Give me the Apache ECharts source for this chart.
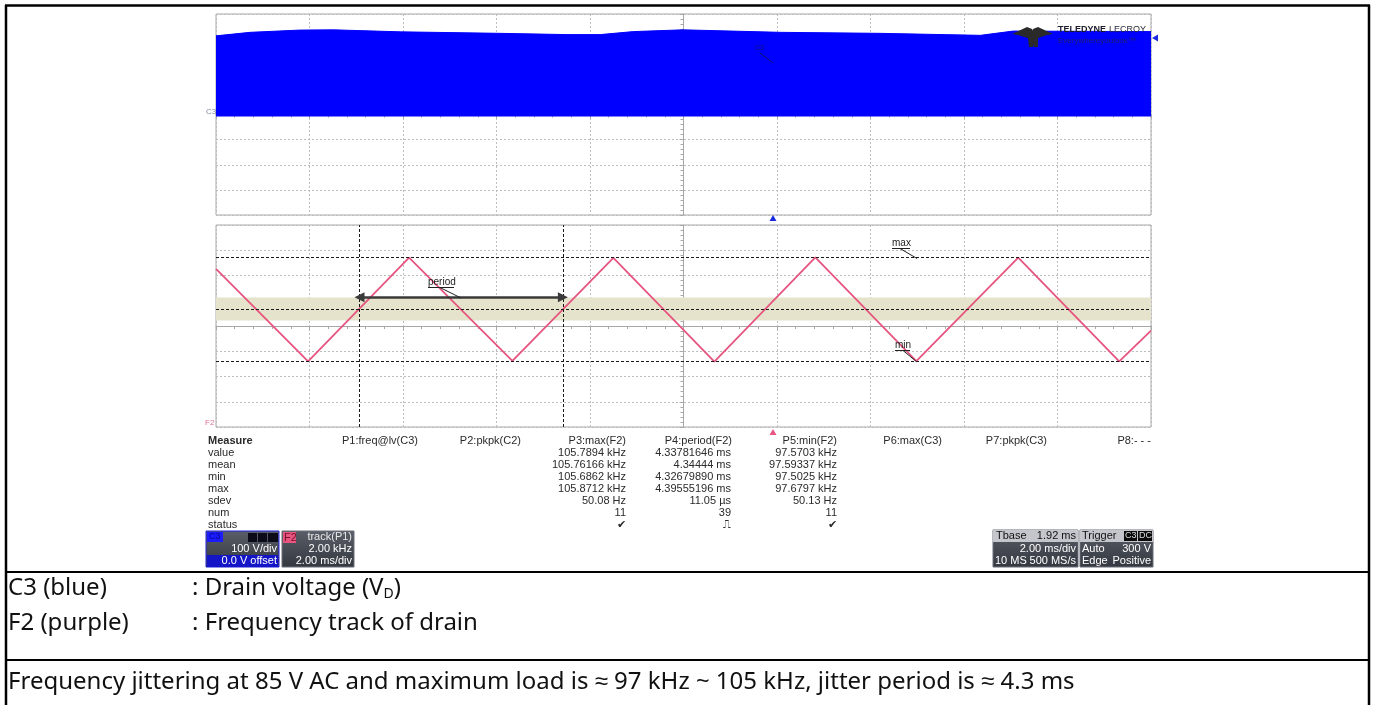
<!DOCTYPE html>
<html>
<head>
<meta charset="utf-8">
<script src="https://cdn.jsdelivr.net/npm/echarts@6/dist/echarts.min.js"></script>
<style>
html, body { margin: 0; padding: 0; background: #fff; }
#chart { width: 1375px; height: 705px; }
</style>
</head>
<body>
<div id="chart"></div>
<script>
// C3: drain voltage burst, top edge of the envelope (V), time in ms from trigger
const c3Times = [-11.92, -11.19, -10.12, -9.41, -7.98, -5.84, -4.41, -3.70, -2.99, -1.93, 0.15, 2.29, 4.43, 5.13, 8.08];
const c3Top = [313, 327, 336, 337, 329, 323, 318, 318, 330, 337, 327, 323, 315, 332, 330];
const c3Bottom = -8;

// F2: frequency track of drain (kHz), turning points of the triangle
const f2Times = [-11.92, -9.95, -7.79, -5.58, -3.42, -1.26, 0.90, 3.06, 5.24, 7.40, 8.08];
const f2Freq = [104.9, 97.57, 105.79, 97.6, 105.77, 97.55, 105.8, 97.58, 105.78, 97.57, 100.0];

// cursors / levels on F2
const f2MaxLevel = 105.79;
const f2MinLevel = 97.57;
const f2MidLevel = 101.67;
const hystBand = [100.8, 102.62];
const periodCursors = [-8.85, -4.50];
const periodArrowLevel = 102.65;

// measurement table
const measureRows = ['value', 'mean', 'min', 'max', 'sdev', 'num', 'status'];
const paramHeaders = ['P1:freq@lv(C3)', 'P2:pkpk(C2)', 'P3:max(F2)', 'P4:period(F2)', 'P5:min(F2)', 'P6:max(C3)', 'P7:pkpk(C3)', 'P8:- - -'];
const p3Values = ['105.7894 kHz', '105.76166 kHz', '105.6862 kHz', '105.8712 kHz', '50.08 Hz', '11', '\u2714'];
const p4Values = ['4.33781646 ms', '4.34444 ms', '4.32679890 ms', '4.39555196 ms', '11.05 \u00b5s', '39', '\u238d'];
const p5Values = ['97.5703 kHz', '97.59337 kHz', '97.5025 kHz', '97.6797 kHz', '50.13 Hz', '11', '\u2714'];

const SCOPE_FONT = 'Liberation Sans, Arial, sans-serif';
const DOC_FONT = '"Noto Sans", sans-serif';
const GRID_LINE = { color: '#bdbdbd', type: [2, 2], width: 1 };

const chart = echarts.init(document.getElementById('chart'));

function divX(gridIndex, zeroY) {
  return {
    gridIndex: gridIndex, type: 'value', min: -5, max: 5, interval: 1,
    axisLabel: { show: false },
    axisLine: { show: true, onZero: true, onZeroAxisIndex: zeroY, lineStyle: { color: '#a8a8a8', width: 1 } },
    axisTick: { show: true, length: 4, lineStyle: { color: '#a8a8a8' } },
    minorTick: { show: true, splitNumber: 5, length: 3, lineStyle: { color: '#a8a8a8' } },
    splitLine: { show: true, lineStyle: GRID_LINE }
  };
}
function divY(gridIndex, zeroX) {
  return {
    gridIndex: gridIndex, type: 'value', min: -4, max: 4, interval: 1,
    axisLabel: { show: false },
    axisLine: { show: true, onZero: true, onZeroAxisIndex: zeroX, lineStyle: { color: '#a8a8a8', width: 1 } },
    axisTick: { show: true, length: 4, lineStyle: { color: '#a8a8a8' } },
    minorTick: { show: true, splitNumber: 5, length: 3, lineStyle: { color: '#a8a8a8' } },
    splitLine: { show: true, lineStyle: GRID_LINE }
  };
}

// ---------- texts & decorations ----------
function txt(x, y, s, opt) {
  return { type: 'text', x: x, y: y, z: 100,
    style: Object.assign({ text: s, font: '11px ' + SCOPE_FONT, fill: '#2a2a2a', align: 'left', verticalAlign: 'middle' }, opt || {}) };
}
function rect(x, y, w, h, fill, stroke) {
  return { type: 'rect', z: 90, shape: { x: x, y: y, width: w, height: h },
    style: { fill: fill, stroke: stroke || null, lineWidth: stroke ? 1 : 0 } };
}
function line(x1, y1, x2, y2, color, width) {
  return { type: 'line', z: 95, shape: { x1: x1, y1: y1, x2: x2, y2: y2 }, style: { stroke: color, lineWidth: width || 1 } };
}

const graphics = [];

// document table frame
graphics.push(line(5, 5.5, 1370, 5.5, '#000', 2.5));
graphics.push(line(6, 5, 6, 705, '#000', 2.5));
graphics.push(line(1369, 5, 1369, 705, '#000', 2.5));
graphics.push(line(5, 572, 1370, 572, '#000', 2));
graphics.push(line(5, 660, 1370, 660, '#000', 2));

// caption rows
const docText = { font: '24px ' + DOC_FONT, fill: '#111' };
graphics.push(txt(8, 588, 'C3 (blue)', docText));
graphics.push({ type: 'text', x: 192, y: 588, z: 100, style: {
  text: '{a|: Drain voltage (V}{s|D}{a|)}', verticalAlign: 'middle', fill: '#111',
  rich: { a: { font: '24px ' + DOC_FONT, fill: '#111' }, s: { font: '14px ' + DOC_FONT, fill: '#111', padding: [12, 0, 0, 0] } }
} });
graphics.push(txt(8, 623, 'F2 (purple)', docText));
graphics.push(txt(192, 623, ': Frequency track of drain', docText));
graphics.push(txt(8, 682, 'Frequency jittering at 85 V AC and maximum load is \u2248 97 kHz ~ 105 kHz, jitter period is \u2248 4.3 ms', docText));

// measurement table
const colRight = [418, 521, 626, 732, 837, 942, 1047, 1151];
graphics.push(txt(208, 441, 'Measure', { font: 'bold 11px ' + SCOPE_FONT }));
paramHeaders.forEach((h, i) => graphics.push(txt(colRight[i], 441, h, { align: 'right' })));
measureRows.forEach((r, i) => {
  const y = 453 + i * 12;
  graphics.push(txt(208, y, r));
  graphics.push(txt(colRight[2], y, p3Values[i], { align: 'right' }));
  graphics.push(txt(colRight[3] - 1, y, p4Values[i], { align: 'right' }));
  graphics.push(txt(colRight[4], y, p5Values[i], { align: 'right' }));
});

// channel descriptor boxes
const boxGrad = () => new echarts.graphic.LinearGradient(0, 0, 0, 1, [
  { offset: 0, color: '#5a5e68' }, { offset: 1, color: '#33373f' }]);
// C3
graphics.push(rect(206, 531, 73, 36, boxGrad(), '#2323e0'));
graphics.push(rect(207, 532, 16, 10, '#1b1bff'));
graphics.push(txt(209, 537, 'C3', { font: '9px ' + SCOPE_FONT, fill: '#0a0a90' }));
graphics.push(rect(248, 533, 9, 9, '#0b0b1a'));
graphics.push(rect(258, 533, 9, 9, '#0b0b1a'));
graphics.push(rect(268, 533, 10, 9, '#0b0b1a'));
graphics.push(txt(277, 549, '100 V/div', { align: 'right', fill: '#fff' }));
graphics.push(rect(207, 555, 71, 12, '#1515c8'));
graphics.push(txt(277, 561, '0.0 V offset', { align: 'right', fill: '#fff' }));
// F2
graphics.push(rect(282, 531, 72, 36, boxGrad(), '#6a6e78'));
graphics.push(rect(283, 532, 13, 11, '#e8557f'));
graphics.push(txt(284, 537.5, 'F2', { font: '11px ' + SCOPE_FONT, fill: '#7a1030' }));
graphics.push(txt(352, 537, 'track(P1)', { align: 'right', fill: '#e8e8e8' }));
graphics.push(txt(352, 549, '2.00 kHz', { align: 'right', fill: '#fff' }));
graphics.push(txt(352, 561, '2.00 ms/div', { align: 'right', fill: '#fff' }));
// Tbase
graphics.push(rect(993, 530, 85, 37, boxGrad(), '#6a6e78'));
graphics.push(rect(993, 530, 85, 12, '#c4c6cc'));
graphics.push(txt(996, 536, 'Tbase', { fill: '#111' }));
graphics.push(txt(1076, 536, '1.92 ms', { align: 'right', fill: '#111' }));
graphics.push(txt(1076, 549, '2.00 ms/div', { align: 'right', fill: '#fff' }));
graphics.push(txt(995, 561, '10 MS', { fill: '#fff' }));
graphics.push(txt(1076, 561, '500 MS/s', { align: 'right', fill: '#fff' }));
// Trigger
graphics.push(rect(1080, 530, 73, 37, boxGrad(), '#6a6e78'));
graphics.push(rect(1080, 530, 73, 12, '#c4c6cc'));
graphics.push(txt(1082, 536, 'Trigger', { fill: '#111' }));
graphics.push(rect(1124, 531, 13, 10, '#0a0a0a'));
graphics.push(rect(1138, 531, 14, 10, '#0a0a0a'));
graphics.push(txt(1125, 536, 'C3', { font: '9px ' + SCOPE_FONT, fill: '#ddd' }));
graphics.push(txt(1139, 536, 'DC', { font: '9px ' + SCOPE_FONT, fill: '#ddd' }));
graphics.push(txt(1082, 549, 'Auto', { fill: '#fff' }));
graphics.push(txt(1151, 549, '300 V', { align: 'right', fill: '#fff' }));
graphics.push(txt(1082, 561, 'Edge', { fill: '#fff' }));
graphics.push(txt(1151, 561, 'Positive', { align: 'right', fill: '#fff' }));

// trace labels and markers
graphics.push(txt(206, 112, 'C3', { font: '8px ' + SCOPE_FONT, fill: '#7f8aa0' }));
graphics.push(txt(205, 423, 'F2', { font: '8px ' + SCOPE_FONT, fill: '#e07090' }));
graphics.push({ type: 'polygon', z: 96, shape: { points: [[773, 215], [769.5, 221], [776.5, 221]] }, style: { fill: '#1a2ae0' } });
graphics.push({ type: 'polygon', z: 96, shape: { points: [[773, 429], [769.5, 435], [776.5, 435]] }, style: { fill: '#e8557f' } });
graphics.push({ type: 'polygon', z: 96, shape: { points: [[1152, 38], [1158, 34.5], [1158, 41.5]] }, style: { fill: '#1a2ae0' } });

// cursor annotations
graphics.push(txt(428, 282, 'period', { font: '10px ' + SCOPE_FONT, fill: '#222' }));
graphics.push(line(428, 287.5, 454, 287.5, '#222', 1));
graphics.push(line(440, 287.5, 461, 298, '#222', 1));
graphics.push(txt(892, 243, 'max', { font: '10px ' + SCOPE_FONT, fill: '#222' }));
graphics.push(line(892, 248.5, 910, 248.5, '#222', 1));
graphics.push(line(900, 248.5, 917, 258.5, '#222', 1));
graphics.push(txt(895, 345, 'min', { font: '10px ' + SCOPE_FONT, fill: '#222' }));
graphics.push(line(895, 350.5, 910, 350.5, '#222', 1));
graphics.push(line(903, 350.5, 917, 362, '#222', 1));
graphics.push(txt(755, 48, 'C3', { font: '7px ' + SCOPE_FONT, fill: '#10106a', rotation: -Math.PI / 2 }));
graphics.push(line(760, 53, 773, 63, '#10106a', 1));

// logo
graphics.push({ type: 'polygon', z: 96, shape: { points: [[1012, 34], [1027, 27], [1032, 29], [1035, 36], [1033, 47], [1029, 47], [1028, 38], [1018, 35]] }, style: { fill: '#2a2a2a' } });
graphics.push({ type: 'polygon', z: 96, shape: { points: [[1053, 34], [1038, 27], [1033, 29], [1031, 36], [1034, 47], [1038, 47], [1038, 38], [1047, 35]] }, style: { fill: '#2a2a2a' } });
graphics.push(txt(1058, 30, '{b|TELEDYNE} {l|LECROY}', { rich: {
  b: { font: 'bold 9px ' + SCOPE_FONT, fill: '#1b1b2a' }, l: { font: '9px ' + SCOPE_FONT, fill: '#2a2a3a' } } }));
graphics.push(txt(1058, 41, 'Everywhereyoulook\u2122', { font: '8px ' + SCOPE_FONT, fill: '#202070' }));

// C3 overlay grid: same width, bottom edge at the trace baseline, same V/px scale as the upper panel
const upperTop = 14, upperHeight = 201, upperVoltSpan = 800;
const c3GridHeight = (400 - c3Bottom) * upperHeight / upperVoltSpan;

const option = {
  animation: false,
  backgroundColor: '#fff',
  grid: [
    { left: 216, top: upperTop, width: 935, height: upperHeight, show: true, borderColor: '#a9a9a9', borderWidth: 1, backgroundColor: '#fff' },
    { left: 216, top: 225, width: 935, height: 202, show: true, borderColor: '#a9a9a9', borderWidth: 1, backgroundColor: '#fff' },
    { left: 216, top: upperTop, width: 935, height: c3GridHeight, show: false }
  ],
  xAxis: [
    divX(0, 0),
    { gridIndex: 0, type: 'value', min: -11.92, max: 8.08, show: false },
    divX(1, 2),
    { gridIndex: 1, type: 'value', min: -11.92, max: 8.08, show: false },
    { gridIndex: 2, type: 'value', min: -11.92, max: 8.08, show: false }
  ],
  yAxis: [
    divY(0, 0),
    { gridIndex: 0, type: 'value', min: -400, max: 400, show: false },
    divY(1, 2),
    { gridIndex: 1, type: 'value', min: 92.37, max: 108.37, show: false },
    { gridIndex: 2, type: 'value', min: c3Bottom, max: 400, show: false }
  ],
  series: [
    {
      name: 'C3', type: 'line', xAxisIndex: 4, yAxisIndex: 4, symbol: 'none', z: 3,
      lineStyle: { color: '#0000ff', width: 1 },
      areaStyle: { color: '#0000ff', opacity: 1, origin: 'start' },
      data: c3Times.map((t, i) => [t, c3Top[i]])
    },
    {
      name: 'F2', type: 'line', xAxisIndex: 3, yAxisIndex: 3, symbol: 'none', z: 4,
      lineStyle: { color: '#e6557f', width: 1.8 },
      data: f2Times.map((t, i) => [t, f2Freq[i]]),
      markArea: {
        silent: true,
        itemStyle: { color: '#e6e3cc' },
        data: [[{ yAxis: hystBand[0] }, { yAxis: hystBand[1] }]]
      },
      markLine: {
        silent: true, symbol: 'none', animation: false,
        label: { show: false },
        lineStyle: { color: '#1a1a1a', type: [3, 2], width: 1 },
        data: [
          { yAxis: f2MaxLevel },
          { yAxis: f2MinLevel },
          { yAxis: f2MidLevel },
          { xAxis: periodCursors[0] },
          { xAxis: periodCursors[1] },
          [
            { coord: [periodCursors[0], periodArrowLevel], symbol: 'triangle', symbolSize: [10, 10],
              lineStyle: { color: '#3a3a3a', type: 'solid', width: 2.5 } },
            { coord: [periodCursors[1], periodArrowLevel], symbol: 'triangle', symbolSize: [10, 10] }
          ]
        ]
      }
    }
  ],
  graphic: graphics
};

chart.setOption(option);
</script>
</body>
</html>
